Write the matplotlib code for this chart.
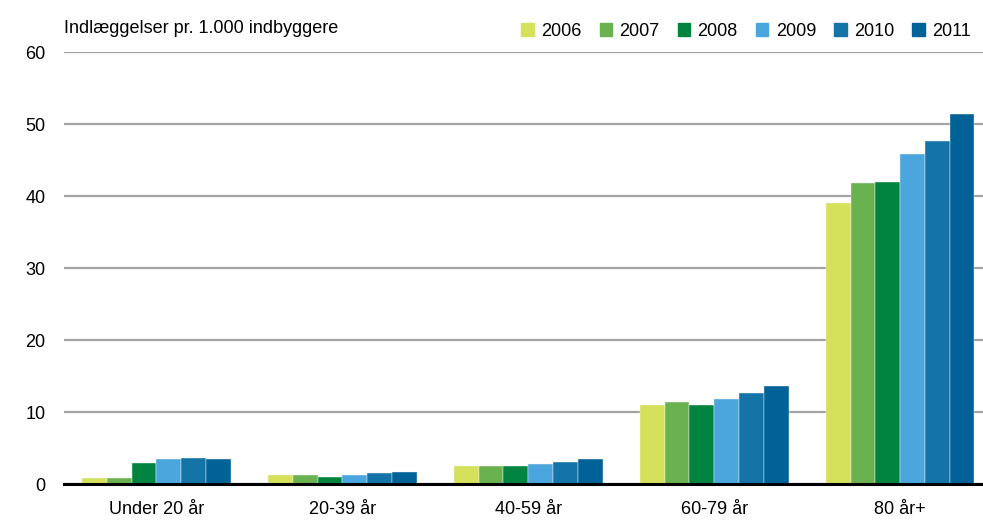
import matplotlib.pyplot as plt
import numpy as np
from matplotlib.patches import Patch

plt.rcParams['font.family'] = ['Liberation Sans', 'DejaVu Sans']

categories = ['Under 20 år', '20-39 år', '40-59 år', '60-79 år', '80 år+']
years = ['2006', '2007', '2008', '2009', '2010', '2011']
values = {
    '2006': [0.9, 1.2, 2.5, 10.95, 39.1],
    '2007': [0.8, 1.3, 2.5, 11.4, 41.85],
    '2008': [3.0, 1.0, 2.55, 11.0, 42.0],
    '2009': [3.5, 1.25, 2.75, 11.8, 45.8],
    '2010': [3.6, 1.5, 3.1, 12.6, 47.6],
    '2011': [3.55, 1.75, 3.55, 13.65, 51.35],
}
colors = ['#d5e05b', '#6ab150', '#00843f', '#4ba6dd', '#1474a8', '#006296']

fig = plt.figure(figsize=(9.83, 5.2), dpi=100)
ax = fig.add_axes([0.0646, 0.069, 0.9354, 0.831])

x = np.arange(len(categories))
w = 0.8 / 6
for i, yr in enumerate(years):
    ax.bar(x - 0.4 + w * (i + 0.5), values[yr], width=w, color=colors[i],
           edgecolor='#f4f4f4', linewidth=0.3, zorder=3)

ax.set_ylim(0, 60)
ax.set_xlim(-0.5, 4.446)
ax.set_yticks(range(0, 61, 10))
ax.yaxis.grid(True, color='#a3a3a3', linewidth=1.6, zorder=0)
ax.set_xticks(x)
ax.set_xticklabels(categories)
ax.tick_params(axis='both', length=0, labelsize=13)
ax.tick_params(axis='y', pad=13)
ax.tick_params(axis='x', pad=12)
for s in ['top', 'right', 'left']:
    ax.spines[s].set_visible(False)
ax.spines['bottom'].set_linewidth(2.2)
ax.spines['bottom'].set_zorder(4)

fig.text(0.0646, 0.945, 'Indlæggelser pr. 1.000 indbyggere', fontsize=13,
         va='center', ha='left')

handles = [Patch(color=c, label=y) for c, y in zip(colors, years)]
fig.legend(handles=handles, ncol=6, loc='center right', bbox_to_anchor=(0.995, 0.94),
           frameon=False, fontsize=13, handlelength=0.7, handleheight=0.7,
           handletextpad=0.4, columnspacing=1.0, borderaxespad=0)

fig.savefig('out.png', dpi=100)
